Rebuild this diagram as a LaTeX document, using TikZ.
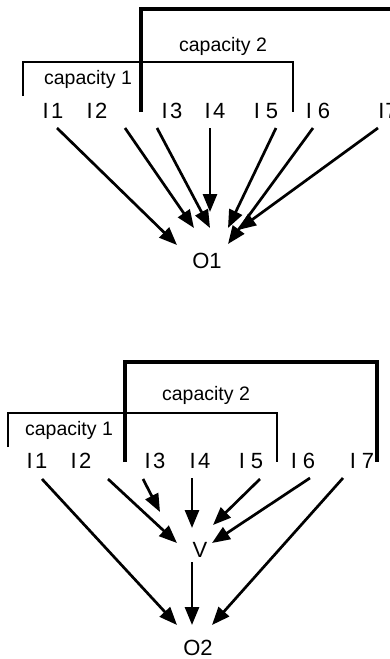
\documentclass[tikz,border=0pt]{standalone}
\usepackage{fontspec}
\setmainfont{Liberation Sans}
\usetikzlibrary{arrows.meta}
\newcommand\inp[2]{I\kern#1pt#2}
\begin{document}
\begin{tikzpicture}[x=1pt,y=-1pt,
  lab/.style={font=\fontsize{22}{26}\selectfont, inner sep=0pt, anchor=base},
  caplab/.style={font=\fontsize{19.5}{23}\selectfont, inner sep=0pt, anchor=base},
  thinbr/.style={line width=1.6pt, line join=miter},
  thickbr/.style={line width=3.8pt, line join=miter},
  feed/.style={line width=2.7pt, -{Triangle[length=18pt,width=14pt]}}]
\useasboundingbox (0,0) rectangle (390,659);

% ---------- upper network ----------
\draw[thickbr] (141,112) -- (141,9) -- (398,9);
\draw[thinbr] (23,96) -- (23,62) -- (293,62) -- (293,112);
\node[caplab] (c1a) at (88,84) {capacity 1};
\node[caplab] (c2a) at (223,51) {capacity 2};

\node[lab] (a1) at (53,118) {\inp{2.5}{1}};
\node[lab] (a2) at (97,118) {\inp{2.5}{2}};
\node[lab] (a3) at (172,118) {\inp{2.5}{3}};
\node[lab] (a4) at (215,118) {\inp{2.5}{4}};
\node[lab] (a5) at (266,118) {I 5};
\node[lab] (a6) at (318,118) {I 6};
\node[lab] (a7) at (388,118) {\inp{1}{7}};
\node[lab] (o1) at (207,268) {O1};

\coordinate (sa1) at (57,128);  \coordinate (ha1) at (177,245);
\coordinate (sa2) at (125,128); \coordinate (ha2) at (194,228);
\coordinate (sa3) at (157,128); \coordinate (ha3) at (210,228);
\coordinate (sa4) at (210,128); \coordinate (ha4) at (210,212);
\coordinate (sa5) at (276,128); \coordinate (ha5) at (228,228);
\coordinate (sa6) at (313,128); \coordinate (ha6) at (228,244);
\coordinate (sa7) at (378,128); \coordinate (ha7) at (238,230);
\foreach \i in {1,...,7} \draw[feed] (sa\i) -- (ha\i);

% ---------- lower network with hidden unit V ----------
\draw[thickbr] (125,462) -- (125,362) -- (377,362) -- (377,462);
\draw[thinbr] (8,447) -- (8,413) -- (277,413) -- (277,462);
\node[caplab] (c1b) at (69,435) {capacity 1};
\node[caplab] (c2b) at (206,400) {capacity 2};

\node[lab] (b1) at (37,468) {\inp{2.5}{1}};
\node[lab] (b2) at (81,468) {\inp{2.5}{2}};
\node[lab] (b3) at (155,468) {\inp{2.5}{3}};
\node[lab] (b4) at (200,468) {\inp{2.5}{4}};
\node[lab] (b5) at (251,468) {I 5};
\node[lab] (b6) at (303,468) {I 6};
\node[lab] (b7) at (362,468) {I 7};
\node[lab] (v) at (200,557) {V};
\node[lab] (o2) at (198,655) {O2};

\coordinate (sb1) at (42,479);  \coordinate (hb1) at (177,625);
\coordinate (sb2) at (108,479); \coordinate (hb2) at (177,543);
\coordinate (sb3) at (143,479); \coordinate (hb3) at (160,512);
\coordinate (sb4) at (192,478); \coordinate (hb4) at (192,528);
\coordinate (sb5) at (260,479); \coordinate (hb5) at (213,525);
\coordinate (sb6) at (310,478); \coordinate (hb6) at (212,543);
\coordinate (sb7) at (343,478); \coordinate (hb7) at (212,625);
\foreach \i in {1,...,7} \draw[feed] (sb\i) -- (hb\i);
\coordinate (sv) at (192,562); \coordinate (hv) at (192,625);
\draw[feed] (sv) -- (hv);
\end{tikzpicture}
\end{document}
